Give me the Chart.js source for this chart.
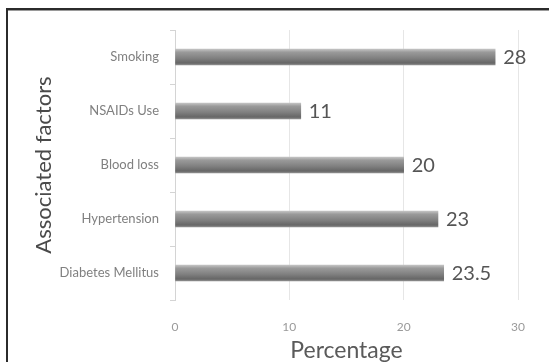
<!DOCTYPE html>
<html>
<head>
<meta charset="utf-8">
<script src="https://cdn.jsdelivr.net/npm/chart.js@4"></script>
<style>
  html, body { margin: 0; padding: 0; background: #fff; }
  #wrap { width: 549px; height: 362px; position: relative; }
</style>
</head>
<body>
<div id="wrap"><canvas id="c" width="549" height="362"></canvas></div>
<script>
// Associated factors and the share of patients (%) for each
const factors = ['Smoking', 'NSAIDs Use', 'Blood loss', 'Hypertension', 'Diabetes Mellitus'];
const percentages = [28, 11, 20, 23, 23.5];
const xTicks = [0, 10, 20, 30];

const FONT = 'Lato, "Open Sans", sans-serif';

// Gray cylinder-like shading for each bar, built around its own row
function barShade(ctx) {
  const chart = ctx.chart;
  const yScale = chart.scales && chart.scales.y;
  if (!yScale || ctx.dataIndex === undefined) return '#808080';
  const cy = yScale.getPixelForValue(ctx.dataIndex);
  if (!isFinite(cy)) return '#808080';
  const g = chart.ctx.createLinearGradient(0, cy - 8, 0, cy + 8);
  g.addColorStop(0, '#c4c4c4');
  g.addColorStop(0.2, '#9a9a9a');
  g.addColorStop(0.55, '#828282');
  g.addColorStop(0.88, '#666666');
  g.addColorStop(1, '#909090');
  return g;
}

// Numbers printed just past the end of each bar
const valueLabels = {
  id: 'valueLabels',
  afterDatasetsDraw(chart) {
    const c = chart.ctx;
    const meta = chart.getDatasetMeta(0);
    c.save();
    c.font = '20px ' + FONT;
    c.fillStyle = '#555555';
    c.textAlign = 'left';
    c.textBaseline = 'middle';
    meta.data.forEach((el, i) => {
      c.fillText(String(percentages[i]), el.x + 8, el.y + 1);
    });
    c.restore();
  }
};

// Dark frame along the top and left edges
const frame = {
  id: 'frame',
  afterDraw(chart) {
    const c = chart.ctx;
    c.save();
    c.fillStyle = '#2b2b2b';
    c.fillRect(6, 8, 549 - 6, 2);
    c.fillRect(6, 8, 2, 362 - 8);
    c.fillStyle = '#9a9a9a';
    c.fillRect(8, 10, 549 - 8, 1);
    c.restore();
  }
};

new Chart(document.getElementById('c'), {
  type: 'bar',
  data: {
    labels: factors,
    datasets: [{
      data: percentages,
      backgroundColor: barShade,
      borderWidth: 0,
      barThickness: 16
    }]
  },
  options: {
    indexAxis: 'y',
    responsive: false,
    animation: false,
    layout: { padding: { left: 31, top: 30, right: 31, bottom: 0 } },
    plugins: { legend: { display: false }, tooltip: { enabled: false } },
    scales: {
      x: {
        min: 0,
        max: 30,
        afterBuildTicks(scale) { scale.ticks = xTicks.map(v => ({ value: v })); },
        afterFit(scale) { scale.height = 62; },
        border: { display: false },
        grid: { color: '#e6e6e6', drawTicks: false, lineWidth: 1 },
        ticks: { color: '#9a9a9a', padding: 20, font: { family: FONT, size: 12 } },
        title: {
          display: true,
          text: 'Percentage',
          color: '#5a5a5a',
          padding: { top: 0, bottom: 0 },
          font: { family: FONT, size: 23, lineHeight: 1 }
        }
      },
      y: {
        afterFit(scale) { scale.width = 144; },
        border: { display: true, color: '#d4d4d4' },
        grid: { drawOnChartArea: false, drawTicks: true, tickLength: 5, color: '#d4d4d4', offset: true },
        ticks: { color: '#808080', padding: 11, font: { family: FONT, size: 13 } },
        title: {
          display: true,
          text: 'Associated factors',
          color: '#4a4a4a',
          padding: { top: 0, bottom: 0 },
          font: { family: FONT, size: 22 }
        }
      }
    }
  },
  plugins: [valueLabels, frame]
});
</script>
</body>
</html>
